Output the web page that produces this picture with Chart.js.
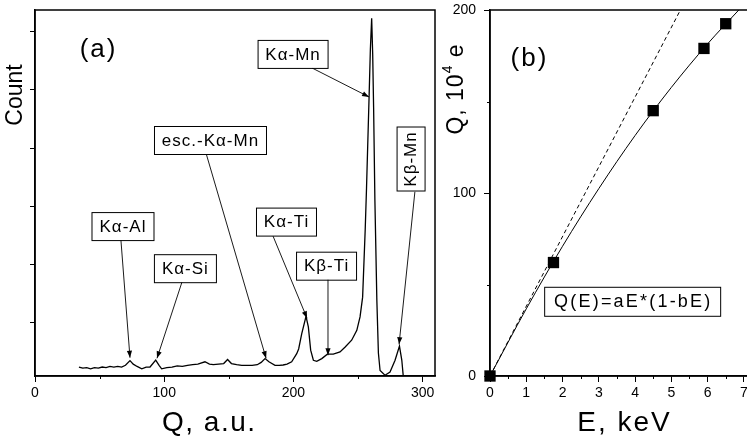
<!DOCTYPE html>
<html>
<head>
<meta charset="utf-8">
<script src="https://cdn.jsdelivr.net/npm/chart.js@4.4.1/dist/chart.umd.min.js"></script>
<style>
html,body{margin:0;padding:0;background:#fff;overflow:hidden}
#wrap{position:relative;width:747px;height:441px}
#boxA{position:absolute;left:0;top:0;width:440px;height:441px}
#boxB{position:absolute;left:440px;top:0;width:307px;height:441px;overflow:hidden}
canvas{display:block}
</style>
</head>
<body>
<div id="wrap">
  <div id="boxA"><canvas id="pa" width="440" height="441"></canvas></div>
  <div id="boxB"><canvas id="pb" width="330" height="441"></canvas></div>
</div>
<script>
// panel (a): pulse-height spectrum
const specQ = [34,37,40,43,46,49,52,55,58,61,64,67,70,73.5,76,79,82.6,86,89,93.4,96,98,102,106,110,114,118,122,126,131.5,135,138,142,146,149,152,156,160,164,168,172,175,178,181,185.7,189,192,195,198.6,202.5,204,206.4,209.7,211.5,213.3,215.4,218,221.9,226.2,230.8,236,240,245,249,251.5,253.5,255.5,256.5,258.5,259.5,260.5,261.3,262,263,264.5,265.7,267,270.8,274.7,278.6,282,283.8,285,286]
const specCount = [24,22,23,21,23,22,24,23,25,24,25,24,27,35,29,25,21,24,24,36,27,21,23,24,26,25,27,28,29,33,29,28,29,30,37,30,28,27,27,27,28,32,38.5,33,27,27,27.5,29,33,47,55,81.5,111,93,53,35.6,33.9,38.5,46,46,50,58.5,70,87,110,144,260,330,488,570,623,560,470,310,139,48,18,10,15.5,35.6,60,36,7,0]
const aTicksX = [0,100,200,300]
const aMinorX = [50,150,250]
const aTicksY = [100,200,300,400,500,600]

// panel (b): collected charge vs energy
const energy = [0,1.75,4.5,5.9,6.5]
const charge = [0,62,145,179,192.5]
const fitE = [0,1,2,3,4,5,6,6.86]
const fitQ = [0,36.7,70.9,102.4,131.4,157.7,181.5,200]
const linE = [0,5.25]
const linQ = [0,200]
const bTicksX = [0,1,2,3,4,5,6,7]
const bMinorX = [0.5,1.5,2.5,3.5,4.5,5.5,6.5]
const bTicksY = [0,100,200]
const bMinorY = [50,150]

// peak labels: text, box centre (data), arrow start (data), arrow tip (data)
const peakLabels = [
  {t:'K\u03b1-Mn', c:[199.3,561.6], s:[214.3,537.5], e:[258.5,487.7]},
  {t:'esc.-K\u03b1-Mn', c:[135.4,413.8], s:[132.3,391.4], e:[178.8,39]},
  {t:'K\u03b2-Mn', c:[290.6,380.3], s:[294,326], e:[281.7,63], vert:true},
  {t:'K\u03b1-Al', c:[67.7,266], s:[66.5,241.5], e:[73.5,40]},
  {t:'K\u03b1-Si', c:[116,193.7], s:[113.7,169.7], e:[94.4,39]},
  {t:'K\u03b1-Ti', c:[194.2,273.7], s:[184.2,248.7], e:[210.5,107.8]},
  {t:'K\u03b2-Ti', c:[225.2,198], s:[226.7,174.8], e:[226.7,44.2]}
]

const FONT = "'Liberation Sans', Arial, sans-serif"
const xy = (xs, ys) => xs.map((x,i)=>({x, y: ys[i]}))

function arrow(ctx, x1, y1, x2, y2){
  ctx.beginPath(); ctx.moveTo(x1,y1); ctx.lineTo(x2,y2); ctx.stroke()
  const a = Math.atan2(y2-y1, x2-x1), L = 7, W = 2.6
  const bx = x2 - L*Math.cos(a), by = y2 - L*Math.sin(a)
  ctx.beginPath(); ctx.moveTo(x2,y2)
  ctx.lineTo(bx + W*Math.sin(a), by - W*Math.cos(a))
  ctx.lineTo(bx - W*Math.sin(a), by + W*Math.cos(a))
  ctx.closePath(); ctx.fill()
}

function spacedText(ctx, text, size, spacing){
  ctx.font = size + 'px ' + FONT
  ctx.letterSpacing = spacing + 'px'
  return ctx.measureText(text).width - spacing
}

function boxLabel(ctx, text, cx, cy, opt){
  const size = opt.size || 17, sp = opt.sp == null ? 1 : opt.sp
  ctx.save()
  const w = spacedText(ctx, text, size, sp)
  const padX = opt.padX || 8, padY = opt.padY || 5.5
  ctx.translate(cx, cy)
  if(opt.vert) ctx.rotate(-Math.PI/2)
  const bw = w + 2*padX, bh = size + 2*padY
  ctx.fillStyle = '#fff'; ctx.fillRect(-bw/2, -bh/2, bw, bh)
  ctx.strokeStyle = '#000'; ctx.lineWidth = 1
  ctx.strokeRect(Math.round(-bw/2)+0.5, Math.round(-bh/2)+0.5, Math.round(bw), Math.round(bh))
  ctx.fillStyle = '#000'; ctx.textAlign = 'left'; ctx.textBaseline = 'middle'
  ctx.fillText(text, -w/2, 1)
  ctx.restore()
}

function minorTicks(ctx, scale, values, len){
  ctx.save(); ctx.strokeStyle = '#000'; ctx.lineWidth = 1
  values.forEach(v=>{
    const p = Math.round(scale.getPixelForValue(v)) + 0.5
    ctx.beginPath()
    if(scale.axis === 'x'){ ctx.moveTo(p, scale.top); ctx.lineTo(p, scale.top + len) }
    else { ctx.moveTo(scale.right, p); ctx.lineTo(scale.right - len, p) }
    ctx.stroke()
  })
  ctx.restore()
}

function frame(ctx, a){
  ctx.save(); ctx.strokeStyle = '#000'; ctx.lineWidth = 1.5
  ctx.strokeRect(a.left, a.top, a.right - a.left, a.bottom - a.top)
  ctx.restore()
}

const plainText = (ctx, text, x, y, size, sp, rot) => {
  ctx.save()
  const w = spacedText(ctx, text, size, sp)
  ctx.translate(x, y); if(rot) ctx.rotate(rot)
  ctx.fillStyle = '#000'; ctx.textAlign = 'left'; ctx.textBaseline = 'middle'
  ctx.fillText(text, -w/2, 0)
  ctx.restore()
}

const decorA = {
  id: 'decorA',
  afterDraw(chart){
    const {ctx, chartArea, scales:{x, y}} = chart
    frame(ctx, chartArea)
    minorTicks(ctx, x, aMinorX, 3)
    ctx.save(); ctx.strokeStyle = '#000'; ctx.fillStyle = '#000'; ctx.lineWidth = 0.9
    peakLabels.forEach(l=>{
      arrow(ctx, x.getPixelForValue(l.s[0]), y.getPixelForValue(l.s[1]), x.getPixelForValue(l.e[0]), y.getPixelForValue(l.e[1]))
    })
    ctx.restore()
    peakLabels.forEach(l=> boxLabel(ctx, l.t, x.getPixelForValue(l.c[0]), y.getPixelForValue(l.c[1]), {vert: l.vert, padX: l.vert ? 5 : 8}))
    plainText(ctx, '(a)', x.getPixelForValue(48.4), y.getPixelForValue(568.5), 26, 2)
    plainText(ctx, 'Count', 16, 95, 23, 0, -Math.PI/2)
    plainText(ctx, 'Q, a.u.', 208.5, 423, 28, 1.5)
  }
}

const decorB = {
  id: 'decorB',
  afterDraw(chart){
    const {ctx, chartArea, scales:{x, y}} = chart
    frame(ctx, chartArea)
    minorTicks(ctx, x, bMinorX, 3)
    minorTicks(ctx, y, bMinorY, 3)
    boxLabel(ctx, 'Q(E)=aE*(1-bE)', x.getPixelForValue(3.92), y.getPixelForValue(41.1), {size:18, sp:2.2, padX:10, padY:5.5})
    plainText(ctx, '(b)', x.getPixelForValue(1.06), y.getPixelForValue(173.5), 26, 2)
    plainText(ctx, 'E, keV', 183.5, 423, 28, 2)
    // rotated "Q, 10^4 e"
    ctx.save()
    ctx.translate(17, 89); ctx.rotate(-Math.PI/2)
    ctx.fillStyle = '#000'; ctx.textBaseline = 'middle'; ctx.textAlign = 'left'
    const w1 = spacedText(ctx, 'Q, 10', 23, 1) + 1
    const w3 = spacedText(ctx, ' e', 23, 1) + 1
    const w2 = spacedText(ctx, '4', 14, 0) + 1
    let px = -(w1 + w2 + w3)/2
    spacedText(ctx, 'Q, 10', 23, 1); ctx.fillText('Q, 10', px, 0); px += w1
    spacedText(ctx, '4', 14, 0); ctx.fillText('4', px, -9); px += w2
    spacedText(ctx, ' e', 23, 1); ctx.fillText(' e', px, 0)
    ctx.restore()
  }
}

const axisCommon = {
  type: 'linear',
  grid: {drawOnChartArea: false, tickLength: 6, color: '#000', tickColor: '#000', lineWidth: 1},
  border: {color: '#000', width: 1.5},
  ticks: {color: '#000', font: {family: FONT, size: 14}, padding: 3, maxRotation: 0, autoSkip: false}
}
const fixedTicks = vals => scale => { scale.ticks = vals.map(v => ({value: v})) }

new Chart(document.getElementById('pa'), {
  type: 'scatter',
  data: {datasets: [{
    data: xy(specQ, specCount), showLine: true, borderColor: '#000', borderWidth: 1.3,
    pointRadius: 0, tension: 0
  }]},
  options: {
    responsive: false, animation: false,
    layout: {padding: {top: 10, right: 5, left: 0, bottom: 0}},
    plugins: {legend: {display: false}, tooltip: {enabled: false}},
    scales: {
      x: {...axisCommon, min: 0, max: 309.5, afterBuildTicks: fixedTicks(aTicksX), afterFit: s => { s.height = 65 }},
      y: {...axisCommon, min: 8.6, max: 637, afterBuildTicks: fixedTicks(aTicksY), afterFit: s => { s.width = 35; s.paddingTop = 0 },
          grid: {...axisCommon.grid, tickLength: 5},
          ticks: {...axisCommon.ticks, callback: () => ''}}
    }
  },
  plugins: [decorA]
})

new Chart(document.getElementById('pb'), {
  type: 'scatter',
  data: {datasets: [
    {data: xy(linE, linQ), showLine: true, borderColor: '#000', borderWidth: 1, borderDash: [4,3], pointRadius: 0},
    {data: xy(fitE, fitQ), showLine: true, borderColor: '#000', borderWidth: 1, pointRadius: 0, cubicInterpolationMode: 'monotone'},
    {data: xy(energy, charge), showLine: false, pointStyle: 'rect', pointRadius: 8,
     backgroundColor: '#000', borderColor: '#000', borderWidth: 0, clip: false}
  ]},
  options: {
    responsive: false, animation: false,
    layout: {padding: {top: 10, right: 5, left: 0, bottom: 0}},
    plugins: {legend: {display: false}, tooltip: {enabled: false}},
    scales: {
      x: {...axisCommon, min: 0, max: 7.5, afterBuildTicks: fixedTicks(bTicksX), afterFit: s => { s.height = 65 }},
      y: {...axisCommon, min: 0, max: 200, afterBuildTicks: fixedTicks(bTicksY), afterFit: s => { s.width = 50; s.paddingTop = 0 },
          ticks: {...axisCommon.ticks, padding: 8}}
    }
  },
  plugins: [decorB]
})
</script>
</body>
</html>
